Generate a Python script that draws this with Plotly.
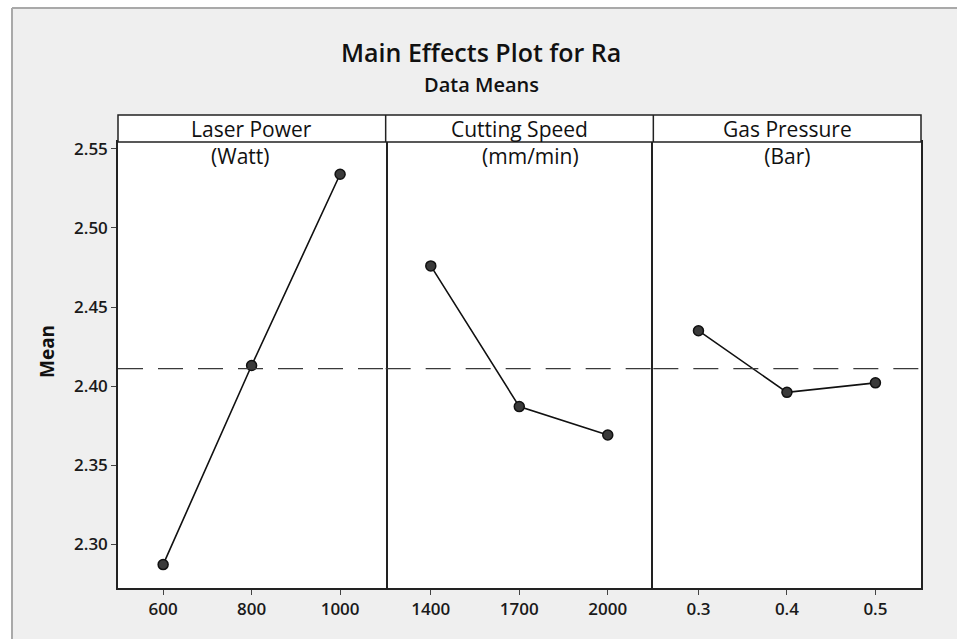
import plotly.graph_objects as go
from plotly.subplots import make_subplots

# Factor names and units shown in the panel headers
factors = ["Laser Power", "Cutting Speed", "Gas Pressure"]
units = ["(Watt)\u00a0\u00a0\u00a0\u00a0", "\u00a0\u00a0\u00a0\u00a0(mm/min)", "(Bar)"]

# Levels and mean Ra at each level
laser_levels = ["600", "800", "1000"]
laser_means = [2.287, 2.413, 2.534]

speed_levels = ["1400", "1700", "2000"]
speed_means = [2.476, 2.387, 2.369]

pressure_levels = ["0.3", "0.4", "0.5"]
pressure_means = [2.435, 2.396, 2.402]

y_ticks = [2.30, 2.35, 2.40, 2.45, 2.50, 2.55]

levels = [laser_levels, speed_levels, pressure_levels]
means = [laser_means, speed_means, pressure_means]
all_values = laser_means + speed_means + pressure_means
grand_mean = sum(all_values) / len(all_values)

W, H = 964, 644
L, R, T, B = 118, 43, 142, 56
PW, PH = W - L - R, H - T - B


def px_x(px):
    return (px - L) / PW


def px_y(py):
    return (H - B - py) / PH


FONT = "Open Sans"
INK = "#1a1a1a"
FRAME = "#222222"

fig = make_subplots(rows=1, cols=3, shared_yaxes=True, horizontal_spacing=0)

for i in range(3):
    fig.add_trace(
        go.Scatter(
            x=levels[i], y=means[i], mode="lines+markers",
            line=dict(color="#111111", width=1.6),
            marker=dict(symbol="circle", size=10, color="#3a3a3a",
                        line=dict(color="#111111", width=1.5)),
            showlegend=False, hoverinfo="x+y",
        ),
        row=1, col=i + 1,
    )
    fig.update_xaxes(
        type="category", range=[-0.51, 2.515],
        showline=True, mirror=True, linecolor=FRAME, linewidth=1.5,
        ticks="outside", ticklen=5, tickwidth=1.2, tickcolor="#444444",
        showgrid=False, zeroline=False,
        tickfont=dict(family=FONT, size=17, color=INK, weight=600),
        row=1, col=i + 1,
    )
    # panel 2 draws no vertical frame; its neighbours supply the dividers
    fig.update_yaxes(
        range=[2.2722, 2.5544], tickvals=y_ticks,
        ticktext=[f"{v:.2f}" for v in y_ticks],
        showline=(i != 1), mirror=True, linecolor=FRAME, linewidth=1.5,
        ticks="outside" if i == 0 else "", ticklen=5, tickwidth=1.2,
        tickcolor="#444444", showticklabels=(i == 0),
        showgrid=False, zeroline=False,
        tickfont=dict(family=FONT, size=17, color=INK, weight=600),
        row=1, col=i + 1,
    )

strip_top = px_y(115)
shapes = [
    # grey frame behind the whole graph
    dict(type="rect", xref="paper", yref="paper", layer="below",
         x0=px_x(12), x1=px_x(957), y0=px_y(639), y1=px_y(8),
         fillcolor="#efefef", line=dict(width=0)),
    dict(type="line", xref="paper", yref="paper", layer="below",
         x0=px_x(12), x1=px_x(957), y0=px_y(8), y1=px_y(8),
         line=dict(color="#a9a9a9", width=2)),
    dict(type="line", xref="paper", yref="paper", layer="below",
         x0=px_x(12), x1=px_x(12), y0=px_y(639), y1=px_y(8),
         line=dict(color="#a9a9a9", width=2)),
    # white data area
    dict(type="rect", xref="paper", yref="paper", layer="below",
         x0=0, x1=1, y0=0, y1=1, fillcolor="white", line=dict(width=0)),
    # header strip
    dict(type="rect", xref="paper", yref="paper",
         x0=0, x1=1, y0=1, y1=strip_top, fillcolor="white",
         line=dict(color=FRAME, width=1.5)),
]
for k in (1, 2):
    shapes.append(dict(type="line", xref="paper", yref="paper",
                       x0=k / 3, x1=k / 3, y0=1, y1=strip_top,
                       line=dict(color=FRAME, width=1.5)))

# dashed reference line at the overall mean in each panel
for i in range(3):
    suffix = "" if i == 0 else str(i + 1)
    shapes.append(dict(type="line", xref=f"x{suffix} domain", yref=f"y{suffix}",
                       x0=0, x1=1, y0=grand_mean, y1=grand_mean,
                       line=dict(color="#3a3a3a", width=1.3, dash="25px,15px")))


def label(text, x, y, size, weight=400, angle=0):
    return dict(text=text, x=x, y=y, xref="paper", yref="paper",
                xanchor="center", yanchor="middle", showarrow=False,
                textangle=angle,
                font=dict(family=FONT, size=size, color="#111111", weight=weight))


annotations = [
    label("Main Effects Plot for Ra", px_x(481), px_y(52), 25, 600),
    label("Data Means", px_x(481), px_y(85), 20, 600),
    label("Mean", px_x(47), px_y(352), 19, 700, -90),
]
for i in range(3):
    cx = (i + 0.5) / 3
    annotations.append(label(f"{factors[i]}<br>{units[i]}", cx, px_y(142.5), 21))

fig.update_layout(
    width=W, height=H,
    margin=dict(l=L, r=R, t=T, b=B),
    paper_bgcolor="white", plot_bgcolor="white",
    shapes=shapes, annotations=annotations,
    font=dict(family=FONT, color=INK),
)

fig.write_html("out.html")
